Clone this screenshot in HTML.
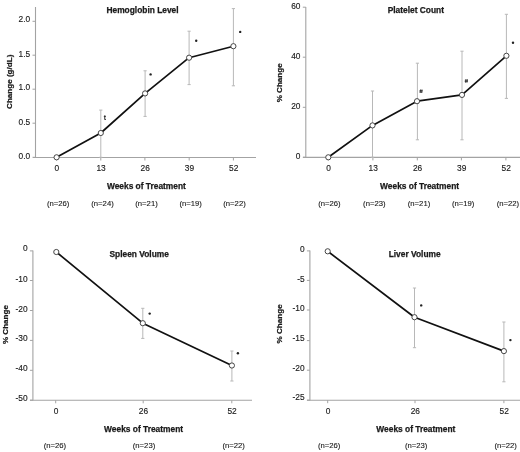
<!DOCTYPE html>
<html><head><meta charset="utf-8"><style>
html,body{margin:0;padding:0;background:#fff;}
body{width:520px;height:452px;overflow:hidden;}
svg{display:block;will-change:transform;filter:blur(0.3px);}
text{font-family:"Liberation Sans",sans-serif;fill:#1a1a1a;}
.t{font-size:9.5px;stroke:#1a1a1a;stroke-width:0.15px;}
.n{font-size:7.7px;stroke:#1a1a1a;stroke-width:0.12px;}
.b{font-size:8.4px;font-weight:bold;stroke:#1a1a1a;stroke-width:0.25px;}
.yl{font-size:8.1px;font-weight:bold;stroke:#1a1a1a;stroke-width:0.25px;}
.h{font-size:6px;font-weight:bold;}
.d{font-size:7px;font-weight:bold;}
</style></head><body>
<svg width="520" height="452" viewBox="0 0 520 452">
<line x1="35.5" y1="7" x2="35.5" y2="157.5" stroke="#a3a3a3" stroke-width="1.1"/>
<line x1="32.5" y1="21.3" x2="35.5" y2="21.3" stroke="#a3a3a3" stroke-width="1"/>
<text transform="translate(30.2,22.1) scale(0.88,1)" text-anchor="end" class="t">2.0</text>
<line x1="32.5" y1="55.2" x2="35.5" y2="55.2" stroke="#a3a3a3" stroke-width="1"/>
<text transform="translate(30.2,57.3) scale(0.88,1)" text-anchor="end" class="t">1.5</text>
<line x1="32.5" y1="89.2" x2="35.5" y2="89.2" stroke="#a3a3a3" stroke-width="1"/>
<text transform="translate(30.2,90.4) scale(0.88,1)" text-anchor="end" class="t">1.0</text>
<line x1="32.5" y1="123.2" x2="35.5" y2="123.2" stroke="#a3a3a3" stroke-width="1"/>
<text transform="translate(30.2,124.7) scale(0.88,1)" text-anchor="end" class="t">0.5</text>
<line x1="32.5" y1="157.3" x2="35.5" y2="157.3" stroke="#a3a3a3" stroke-width="1"/>
<text transform="translate(30.2,159.1) scale(0.88,1)" text-anchor="end" class="t">0.0</text>
<line x1="33" y1="157.5" x2="256" y2="157.5" stroke="#a3a3a3" stroke-width="1.1"/>
<line x1="56.6" y1="157.5" x2="56.6" y2="160.5" stroke="#a3a3a3" stroke-width="1"/>
<text transform="translate(56.9,171) scale(0.88,1)" text-anchor="middle" class="t">0</text>
<line x1="100.8" y1="157.5" x2="100.8" y2="160.5" stroke="#a3a3a3" stroke-width="1"/>
<text transform="translate(101.1,171) scale(0.88,1)" text-anchor="middle" class="t">13</text>
<line x1="144.9" y1="157.5" x2="144.9" y2="160.5" stroke="#a3a3a3" stroke-width="1"/>
<text transform="translate(145.2,171) scale(0.88,1)" text-anchor="middle" class="t">26</text>
<line x1="189.2" y1="157.5" x2="189.2" y2="160.5" stroke="#a3a3a3" stroke-width="1"/>
<text transform="translate(189.5,171) scale(0.88,1)" text-anchor="middle" class="t">39</text>
<line x1="233.4" y1="157.5" x2="233.4" y2="160.5" stroke="#a3a3a3" stroke-width="1"/>
<text transform="translate(233.7,171) scale(0.88,1)" text-anchor="middle" class="t">52</text>
<path d="M100.8 110.1V157.3M99.2 110.1H102.4M99.2 157.3H102.4" stroke="#b8b8b8" stroke-width="1" fill="none"/>
<path d="M145.1 70.8V116.4M143.5 70.8H146.7M143.5 116.4H146.7" stroke="#b8b8b8" stroke-width="1" fill="none"/>
<path d="M189.1 31.2V84.6M187.5 31.2H190.7M187.5 84.6H190.7" stroke="#b8b8b8" stroke-width="1" fill="none"/>
<path d="M233.4 8.6V85.8M231.8 8.6H235M231.8 85.8H235" stroke="#b8b8b8" stroke-width="1" fill="none"/>
<polyline points="56.6,157.3 100.8,133 145.1,93.4 189.1,57.7 233.4,46.2" fill="none" stroke="#111" stroke-width="1.7" stroke-linejoin="round"/>
<circle cx="56.6" cy="157.3" r="2.6" fill="#fff" stroke="#333" stroke-width="0.9"/>
<circle cx="100.8" cy="133" r="2.6" fill="#fff" stroke="#333" stroke-width="0.9"/>
<circle cx="145.1" cy="93.4" r="2.6" fill="#fff" stroke="#333" stroke-width="0.9"/>
<circle cx="189.1" cy="57.7" r="2.6" fill="#fff" stroke="#333" stroke-width="0.9"/>
<circle cx="233.4" cy="46.2" r="2.6" fill="#fff" stroke="#333" stroke-width="0.9"/>
<text x="104.9" y="119.8" text-anchor="middle" class="d">t</text>
<circle cx="150.6" cy="74.4" r="1.2" fill="#222"/>
<circle cx="196.2" cy="40.7" r="1.2" fill="#222"/>
<circle cx="240.2" cy="31.9" r="1.2" fill="#222"/>
<text x="142.55" y="13" text-anchor="middle" class="b">Hemoglobin Level</text>
<text transform="translate(11.6,81.8) rotate(-90) scale(1,0.88)" x="0" y="0" text-anchor="middle" class="yl">Change (g/dL)</text>
<text x="146.4" y="188.5" text-anchor="middle" class="b">Weeks of Treatment</text>
<text x="58.2" y="205.8" text-anchor="middle" class="n">(n=26)</text>
<text x="102.5" y="205.8" text-anchor="middle" class="n">(n=24)</text>
<text x="146.5" y="205.8" text-anchor="middle" class="n">(n=21)</text>
<text x="190.7" y="205.8" text-anchor="middle" class="n">(n=19)</text>
<text x="234.5" y="205.8" text-anchor="middle" class="n">(n=22)</text>
<line x1="305.8" y1="7" x2="305.8" y2="157.5" stroke="#a3a3a3" stroke-width="1.1"/>
<line x1="302.8" y1="7.2" x2="305.8" y2="7.2" stroke="#a3a3a3" stroke-width="1"/>
<text transform="translate(300.5,8.7) scale(0.88,1)" text-anchor="end" class="t">60</text>
<line x1="302.8" y1="57.2" x2="305.8" y2="57.2" stroke="#a3a3a3" stroke-width="1"/>
<text transform="translate(300.5,58.7) scale(0.88,1)" text-anchor="end" class="t">40</text>
<line x1="302.8" y1="107.3" x2="305.8" y2="107.3" stroke="#a3a3a3" stroke-width="1"/>
<text transform="translate(300.5,109.2) scale(0.88,1)" text-anchor="end" class="t">20</text>
<line x1="302.8" y1="157.3" x2="305.8" y2="157.3" stroke="#a3a3a3" stroke-width="1"/>
<text transform="translate(300.5,158.9) scale(0.88,1)" text-anchor="end" class="t">0</text>
<line x1="303" y1="157.4" x2="520" y2="157.4" stroke="#a3a3a3" stroke-width="1.1"/>
<line x1="328.3" y1="157.4" x2="328.3" y2="160.4" stroke="#a3a3a3" stroke-width="1"/>
<text transform="translate(328.6,170.9) scale(0.88,1)" text-anchor="middle" class="t">0</text>
<line x1="372.9" y1="157.4" x2="372.9" y2="160.4" stroke="#a3a3a3" stroke-width="1"/>
<text transform="translate(373.2,170.9) scale(0.88,1)" text-anchor="middle" class="t">13</text>
<line x1="417.3" y1="157.4" x2="417.3" y2="160.4" stroke="#a3a3a3" stroke-width="1"/>
<text transform="translate(417.6,170.9) scale(0.88,1)" text-anchor="middle" class="t">26</text>
<line x1="461.4" y1="157.4" x2="461.4" y2="160.4" stroke="#a3a3a3" stroke-width="1"/>
<text transform="translate(461.7,170.9) scale(0.88,1)" text-anchor="middle" class="t">39</text>
<line x1="505.9" y1="157.4" x2="505.9" y2="160.4" stroke="#a3a3a3" stroke-width="1"/>
<text transform="translate(506.2,170.9) scale(0.88,1)" text-anchor="middle" class="t">52</text>
<path d="M372.5 91V157.3M370.9 91H374.1M370.9 157.3H374.1" stroke="#b8b8b8" stroke-width="1" fill="none"/>
<path d="M417.4 63.2V139.8M415.8 63.2H419M415.8 139.8H419" stroke="#b8b8b8" stroke-width="1" fill="none"/>
<path d="M462 51.2V139.8M460.4 51.2H463.6M460.4 139.8H463.6" stroke="#b8b8b8" stroke-width="1" fill="none"/>
<path d="M506.4 14.3V98.4M504.8 14.3H508M504.8 98.4H508" stroke="#b8b8b8" stroke-width="1" fill="none"/>
<polyline points="328.3,157.3 372.5,125.4 417,101.2 462,94.9 506.4,55.8" fill="none" stroke="#111" stroke-width="1.7" stroke-linejoin="round"/>
<circle cx="328.3" cy="157.3" r="2.6" fill="#fff" stroke="#333" stroke-width="0.9"/>
<circle cx="372.5" cy="125.4" r="2.6" fill="#fff" stroke="#333" stroke-width="0.9"/>
<circle cx="417" cy="101.2" r="2.6" fill="#fff" stroke="#333" stroke-width="0.9"/>
<circle cx="462" cy="94.9" r="2.6" fill="#fff" stroke="#333" stroke-width="0.9"/>
<circle cx="506.4" cy="55.8" r="2.6" fill="#fff" stroke="#333" stroke-width="0.9"/>
<path d="M420.6 89.4L420.2 93M422 89.4L421.6 93M419.5 90.6H422.7M419.4 91.9H422.6" stroke="#222" stroke-width="0.75" fill="none"/>
<path d="M465.9 79.1L465.5 82.7M467.3 79.1L466.9 82.7M464.8 80.3H468M464.7 81.6H467.9" stroke="#222" stroke-width="0.75" fill="none"/>
<circle cx="513" cy="42.7" r="1.2" fill="#222"/>
<text x="415.8" y="13" text-anchor="middle" class="b">Platelet Count</text>
<text transform="translate(281.9,82.8) rotate(-90) scale(1,0.88)" x="0" y="0" text-anchor="middle" class="yl">% Change</text>
<text x="419.6" y="188.7" text-anchor="middle" class="b">Weeks of Treatment</text>
<text x="329.4" y="205.8" text-anchor="middle" class="n">(n=26)</text>
<text x="374.3" y="205.8" text-anchor="middle" class="n">(n=23)</text>
<text x="419" y="205.8" text-anchor="middle" class="n">(n=21)</text>
<text x="463.1" y="205.8" text-anchor="middle" class="n">(n=19)</text>
<text x="507.9" y="205.8" text-anchor="middle" class="n">(n=22)</text>
<line x1="32.9" y1="250.5" x2="32.9" y2="400.5" stroke="#a3a3a3" stroke-width="1.1"/>
<line x1="29.9" y1="250.9" x2="32.9" y2="250.9" stroke="#a3a3a3" stroke-width="1"/>
<text transform="translate(27.6,251.2) scale(0.88,1)" text-anchor="end" class="t">0</text>
<line x1="29.9" y1="280.5" x2="32.9" y2="280.5" stroke="#a3a3a3" stroke-width="1"/>
<text transform="translate(27.6,281.8) scale(0.88,1)" text-anchor="end" class="t">-10</text>
<line x1="29.9" y1="310.5" x2="32.9" y2="310.5" stroke="#a3a3a3" stroke-width="1"/>
<text transform="translate(27.6,311.9) scale(0.88,1)" text-anchor="end" class="t">-20</text>
<line x1="29.9" y1="340.4" x2="32.9" y2="340.4" stroke="#a3a3a3" stroke-width="1"/>
<text transform="translate(27.6,341.2) scale(0.88,1)" text-anchor="end" class="t">-30</text>
<line x1="29.9" y1="370.3" x2="32.9" y2="370.3" stroke="#a3a3a3" stroke-width="1"/>
<text transform="translate(27.6,371.3) scale(0.88,1)" text-anchor="end" class="t">-40</text>
<line x1="29.9" y1="400.2" x2="32.9" y2="400.2" stroke="#a3a3a3" stroke-width="1"/>
<text transform="translate(27.6,401) scale(0.88,1)" text-anchor="end" class="t">-50</text>
<line x1="30" y1="400.3" x2="252" y2="400.3" stroke="#a3a3a3" stroke-width="1.1"/>
<line x1="55.7" y1="400.3" x2="55.7" y2="403.3" stroke="#a3a3a3" stroke-width="1"/>
<text transform="translate(56,413.8) scale(0.88,1)" text-anchor="middle" class="t">0</text>
<line x1="143.2" y1="400.3" x2="143.2" y2="403.3" stroke="#a3a3a3" stroke-width="1"/>
<text transform="translate(143.5,413.8) scale(0.88,1)" text-anchor="middle" class="t">26</text>
<line x1="231.8" y1="400.3" x2="231.8" y2="403.3" stroke="#a3a3a3" stroke-width="1"/>
<text transform="translate(232.1,413.8) scale(0.88,1)" text-anchor="middle" class="t">52</text>
<path d="M142.8 308.3V338.4M141.2 308.3H144.4M141.2 338.4H144.4" stroke="#b8b8b8" stroke-width="1" fill="none"/>
<path d="M231.9 351V381M230.3 351H233.5M230.3 381H233.5" stroke="#b8b8b8" stroke-width="1" fill="none"/>
<polyline points="56.3,252 142.8,323.2 231.9,365.5" fill="none" stroke="#111" stroke-width="1.7" stroke-linejoin="round"/>
<circle cx="56.3" cy="252" r="2.6" fill="#fff" stroke="#333" stroke-width="0.9"/>
<circle cx="142.8" cy="323.2" r="2.6" fill="#fff" stroke="#333" stroke-width="0.9"/>
<circle cx="231.9" cy="365.5" r="2.6" fill="#fff" stroke="#333" stroke-width="0.9"/>
<circle cx="149.7" cy="313.6" r="1.2" fill="#222"/>
<circle cx="237.9" cy="353.2" r="1.2" fill="#222"/>
<text x="139.2" y="256.9" text-anchor="middle" class="b">Spleen Volume</text>
<text transform="translate(7.9,324.6) rotate(-90) scale(1,0.88)" x="0" y="0" text-anchor="middle" class="yl">% Change</text>
<text x="143.6" y="431.5" text-anchor="middle" class="b">Weeks of Treatment</text>
<text x="54.9" y="448.4" text-anchor="middle" class="n">(n=26)</text>
<text x="144" y="448.4" text-anchor="middle" class="n">(n=23)</text>
<text x="233.7" y="448.4" text-anchor="middle" class="n">(n=22)</text>
<line x1="309.9" y1="250.5" x2="309.9" y2="400.5" stroke="#a3a3a3" stroke-width="1.1"/>
<line x1="306.9" y1="250.9" x2="309.9" y2="250.9" stroke="#a3a3a3" stroke-width="1"/>
<text transform="translate(304.6,251.5) scale(0.88,1)" text-anchor="end" class="t">0</text>
<line x1="306.9" y1="280.4" x2="309.9" y2="280.4" stroke="#a3a3a3" stroke-width="1"/>
<text transform="translate(304.6,282.2) scale(0.88,1)" text-anchor="end" class="t">-5</text>
<line x1="306.9" y1="310" x2="309.9" y2="310" stroke="#a3a3a3" stroke-width="1"/>
<text transform="translate(304.6,310.7) scale(0.88,1)" text-anchor="end" class="t">-10</text>
<line x1="306.9" y1="340.6" x2="309.9" y2="340.6" stroke="#a3a3a3" stroke-width="1"/>
<text transform="translate(304.6,340.9) scale(0.88,1)" text-anchor="end" class="t">-15</text>
<line x1="306.9" y1="370.2" x2="309.9" y2="370.2" stroke="#a3a3a3" stroke-width="1"/>
<text transform="translate(304.6,370.6) scale(0.88,1)" text-anchor="end" class="t">-20</text>
<line x1="306.9" y1="400.2" x2="309.9" y2="400.2" stroke="#a3a3a3" stroke-width="1"/>
<text transform="translate(304.6,399.5) scale(0.88,1)" text-anchor="end" class="t">-25</text>
<line x1="307" y1="400.2" x2="520" y2="400.2" stroke="#a3a3a3" stroke-width="1.1"/>
<line x1="327.7" y1="400.2" x2="327.7" y2="403.2" stroke="#a3a3a3" stroke-width="1"/>
<text transform="translate(328,413.7) scale(0.88,1)" text-anchor="middle" class="t">0</text>
<line x1="415" y1="400.2" x2="415" y2="403.2" stroke="#a3a3a3" stroke-width="1"/>
<text transform="translate(415.3,413.7) scale(0.88,1)" text-anchor="middle" class="t">26</text>
<line x1="503.9" y1="400.2" x2="503.9" y2="403.2" stroke="#a3a3a3" stroke-width="1"/>
<text transform="translate(504.2,413.7) scale(0.88,1)" text-anchor="middle" class="t">52</text>
<path d="M414.5 288V347.7M412.9 288H416.1M412.9 347.7H416.1" stroke="#b8b8b8" stroke-width="1" fill="none"/>
<path d="M503.9 322V381.8M502.3 322H505.5M502.3 381.8H505.5" stroke="#b8b8b8" stroke-width="1" fill="none"/>
<polyline points="327.7,251.3 414.5,317.2 503.9,351.1" fill="none" stroke="#111" stroke-width="1.7" stroke-linejoin="round"/>
<circle cx="327.7" cy="251.3" r="2.6" fill="#fff" stroke="#333" stroke-width="0.9"/>
<circle cx="414.5" cy="317.2" r="2.6" fill="#fff" stroke="#333" stroke-width="0.9"/>
<circle cx="503.9" cy="351.1" r="2.6" fill="#fff" stroke="#333" stroke-width="0.9"/>
<circle cx="421.2" cy="305.4" r="1.2" fill="#222"/>
<circle cx="510.4" cy="340.1" r="1.2" fill="#222"/>
<text x="414.65" y="256.9" text-anchor="middle" class="b">Liver Volume</text>
<text transform="translate(282.4,323.9) rotate(-90) scale(1,0.88)" x="0" y="0" text-anchor="middle" class="yl">% Change</text>
<text x="415.8" y="431.5" text-anchor="middle" class="b">Weeks of Treatment</text>
<text x="329.1" y="448.4" text-anchor="middle" class="n">(n=26)</text>
<text x="416.2" y="448.4" text-anchor="middle" class="n">(n=23)</text>
<text x="505.6" y="448.4" text-anchor="middle" class="n">(n=22)</text>
</svg>
</body></html>
